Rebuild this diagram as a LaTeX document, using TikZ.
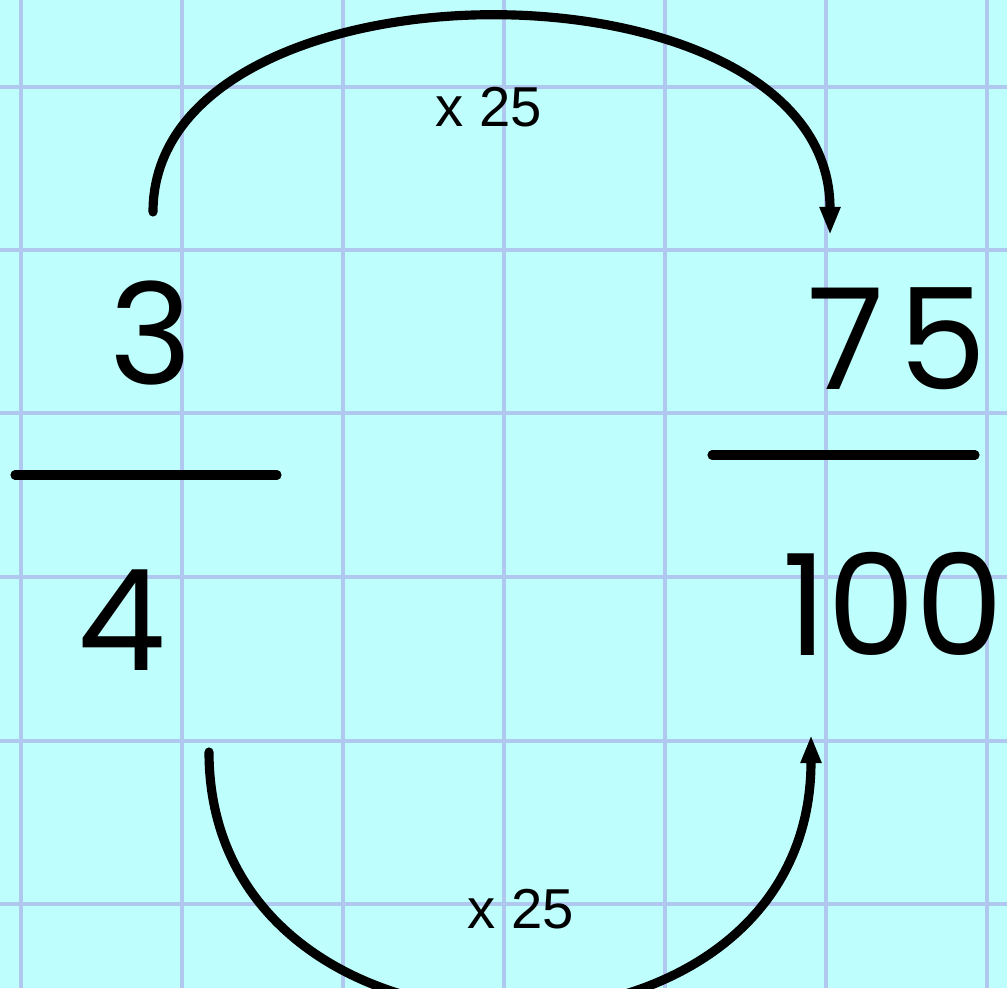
\documentclass[tikz,border=0pt]{standalone}
\usepackage{fontspec}
\setmainfont{Liberation Sans}
\newfontfamily\handfont{Poppins}
\usetikzlibrary{arrows.meta,calc}
\definecolor{paper}{HTML}{BEFFFD}
\definecolor{gridblue}{HTML}{B0C7F0}
\definecolor{ink}{HTML}{000000}

\begin{document}
\begin{tikzpicture}[
  x=0.01cm, y=0.01cm,
  gridline/.style={draw=gridblue,line width=1.4pt},
  numeral/.style={font=\handfont\fontsize{40}{46}\selectfont,text=ink,
    inner sep=0pt,anchor=base},
  timeslab/.style={font=\fontsize{16}{19}\selectfont,text=ink,
    inner sep=0pt,anchor=base},
  bar/.style={draw=ink,line width=2.6pt,line cap=round},
  jump/.style={draw=ink,line width=2.6pt,line cap=round,
    -{Triangle[length=8pt,width=5.5pt]}}
]
  \useasboundingbox (0,0) rectangle (1007,988);
  \fill[paper] (0,0) rectangle (1007,988);
  \clip (0,0) rectangle (1007,988);

  % squared paper
  \foreach \x in {21,182,343,504,665,826,987}
    \draw[gridline] (\x,0) -- (\x,988);
  \foreach \y in {84,247,411,575,738,901}
    \draw[gridline] (0,\y) -- (1007,\y);

  % the two fractions
  \node[numeral] (num3) at (151,603) {3};
  \node[numeral] (den4) at (122,318) {4};
  \draw[bar] (15,513) -- (277,513);

  \node[numeral] (num75) at (897,598) {7\kern4pt5};
  \node[numeral] (den100) at (893,333) {100};
  \draw[bar] (712,533) -- (975,533);

  % multiply top and bottom by the same number
  \draw[jump] ($(num3.base)+(2,173)$) .. controls +(0,262) and +(0,286)
    .. ($(num75.base)+(-67,155)$);
  \node[timeslab] (toplab) at (489,861) {x 25};

  \draw[jump] ($(den4.base)+(87,-82)$) .. controls +(0,-343) and +(0,-360)
    .. ($(den100.base)+(-82,-80)$);
  \node[timeslab] (botlab) at (521,60) {x 25};
\end{tikzpicture}
\end{document}
